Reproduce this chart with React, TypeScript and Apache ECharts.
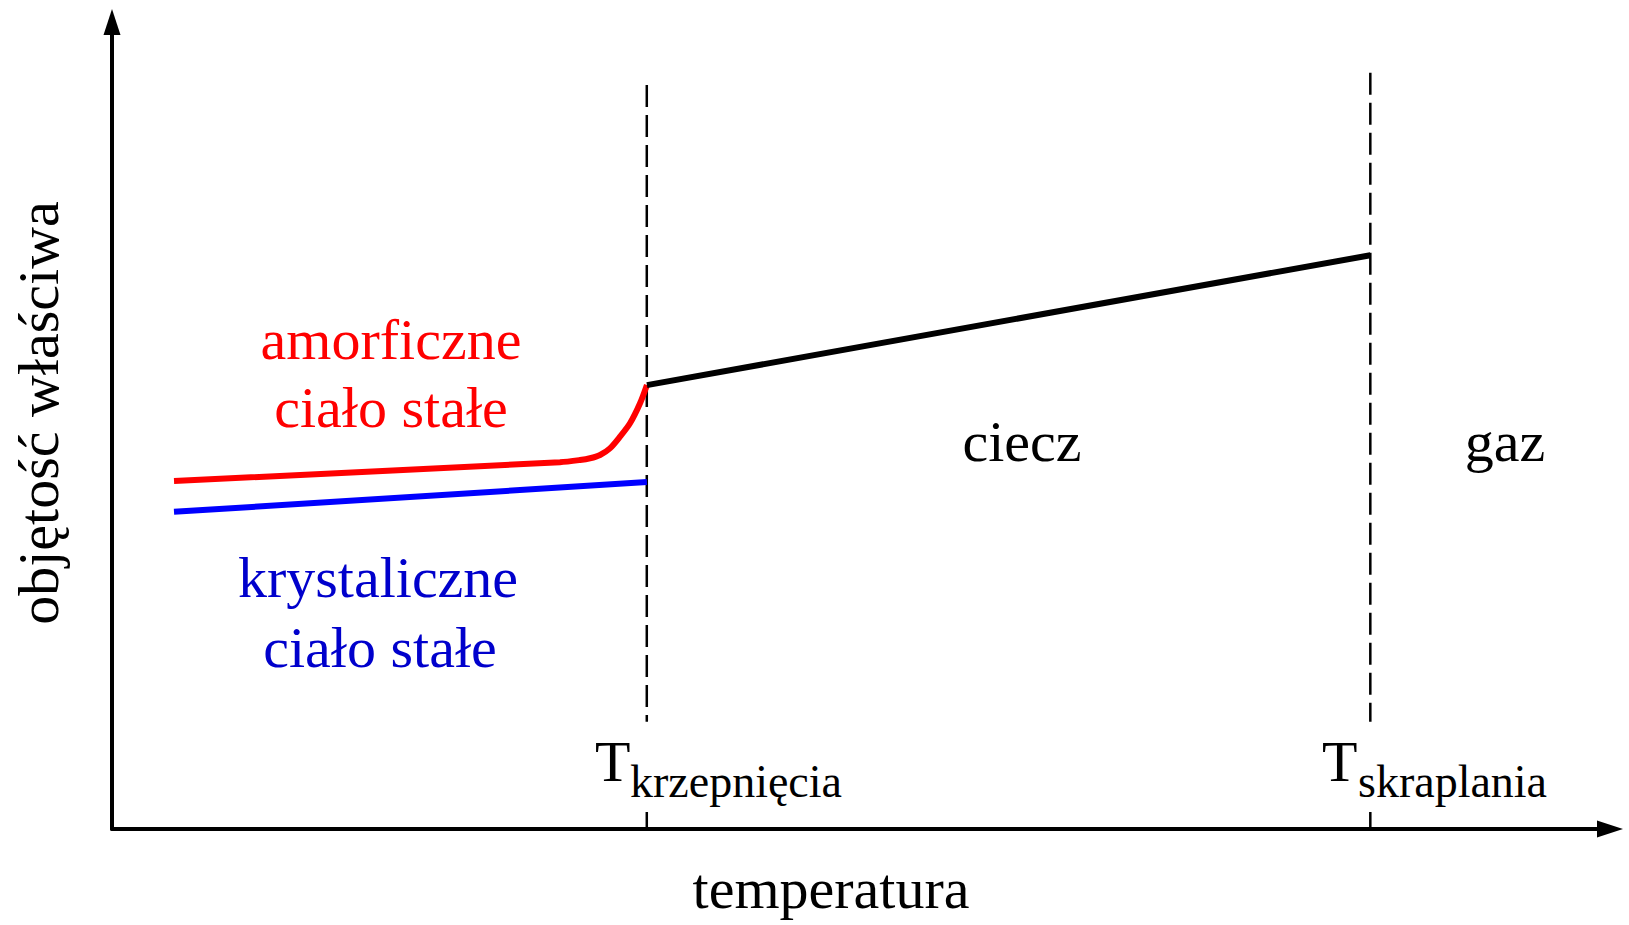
import React, { useEffect, useRef } from "react";
import * as echarts from "echarts";

// x: temperature (arbitrary units), y: specific volume (arbitrary units)
const T_KRZEPNIECIA = 35.7;
const T_SKRAPLANIA = 84.0;

const amorphousX = [4.14, 29.9, 31.24, 31.91, 32.58, 33.24, 33.91, 34.58, 35.25, 35.71];
const amorphousY = [43.12, 45.45, 45.72, 45.94, 46.35, 47.17, 48.61, 50.27, 52.75, 55.02];

const crystalX = [4.14, 35.71];
const crystalY = [39.3, 43.0];

const liquidX = [35.71, 84.0];
const liquidY = [55.0, 71.1];

// dashed marker lines: [top, gapTop, gapBottom, bottom]
const dash1Y = [92.2, 13.3, 2.1, 0];
const dash2Y = [93.7, 13.3, 2.1, 0];

const zip = (xs: number[], ys: number[]) => xs.map((x, i) => [x, ys[i]]);
const dashData = (x: number, ys: number[]) => [
  [x, ys[0]],
  [x, ys[1]],
  [x, "-"],
  [x, ys[2]],
  [x, ys[3]],
];

const FONT = '"Liberation Serif", "Times New Roman", serif';

export default function App() {
  const ref = useRef<HTMLDivElement>(null);
  useEffect(() => {
    if (!ref.current) return;
    const chart = echarts.init(ref.current, undefined, { renderer: "svg" });
    const txt = (
      text: string,
      x: number,
      y: number,
      fill: string,
      size = 58,
      align = "center",
      rotation = 0
    ) => ({
      type: "text",
      x,
      y,
      rotation,
      silent: true,
      style: {
        text,
        fill,
        fontSize: size,
        fontFamily: FONT,
        align,
        verticalAlign: "middle",
      },
    });
    chart.setOption({
      animation: false,
      backgroundColor: "#ffffff",
      grid: { left: 112, right: 19, top: 22, bottom: 96 },
      xAxis: {
        type: "value",
        min: 0,
        max: 100,
        axisLine: {
          show: true,
          symbol: ["none", "triangle"],
          symbolSize: [17, 26],
          lineStyle: { color: "#000", width: 4 },
        },
        axisTick: { show: false },
        axisLabel: { show: false },
        splitLine: { show: false },
      },
      yAxis: {
        type: "value",
        min: 0,
        max: 100,
        axisLine: {
          show: true,
          symbol: ["none", "triangle"],
          symbolSize: [17, 26],
          lineStyle: { color: "#000", width: 4 },
        },
        axisTick: { show: false },
        axisLabel: { show: false },
        splitLine: { show: false },
      },
      series: [
        {
          type: "line",
          data: dashData(T_KRZEPNIECIA, dash1Y),
          symbol: "none",
          connectNulls: false,
          lineStyle: { color: "#000", width: 2.5, type: [22, 8] },
          z: 1,
        },
        {
          type: "line",
          data: dashData(T_SKRAPLANIA, dash2Y),
          symbol: "none",
          connectNulls: false,
          lineStyle: { color: "#000", width: 2.5, type: [22, 8] },
          z: 1,
        },
        {
          type: "line",
          data: zip(crystalX, crystalY),
          symbol: "none",
          lineStyle: { color: "#0000ff", width: 6 },
          z: 3,
        },
        {
          type: "line",
          data: zip(amorphousX, amorphousY),
          symbol: "none",
          smooth: 0.3,
          lineStyle: { color: "#ff0000", width: 6 },
          z: 3,
        },
        {
          type: "line",
          data: zip(liquidX, liquidY),
          symbol: "none",
          lineStyle: { color: "#000", width: 6 },
          z: 3,
        },
      ],
      graphic: [
        txt("amorficzne", 391, 339, "#ff0000"),
        txt("ciało stałe", 391, 407, "#ff0000"),
        txt("krystaliczne", 378, 577, "#0000cc"),
        txt("ciało stałe", 380, 647, "#0000cc"),
        txt("ciecz", 1022, 441, "#000"),
        txt("gaz", 1505, 441, "#000"),
        txt("temperatura", 831, 888, "#000"),
        txt("T", 595, 761, "#000", 58, "left"),
        txt("krzepnięcia", 630, 781, "#000", 46, "left"),
        txt("T", 1322, 761, "#000", 58, "left"),
        txt("skraplania", 1358, 781, "#000", 46, "left"),
        txt("objętość właściwa", 38, 413, "#000", 58, "center", Math.PI / 2),
      ],
    });
    return () => chart.dispose();
  }, []);
  return (
    <div
      ref={ref}
      style={{ position: "absolute", left: 0, top: 0, width: 1629, height: 925 }}
    />
  );
}
